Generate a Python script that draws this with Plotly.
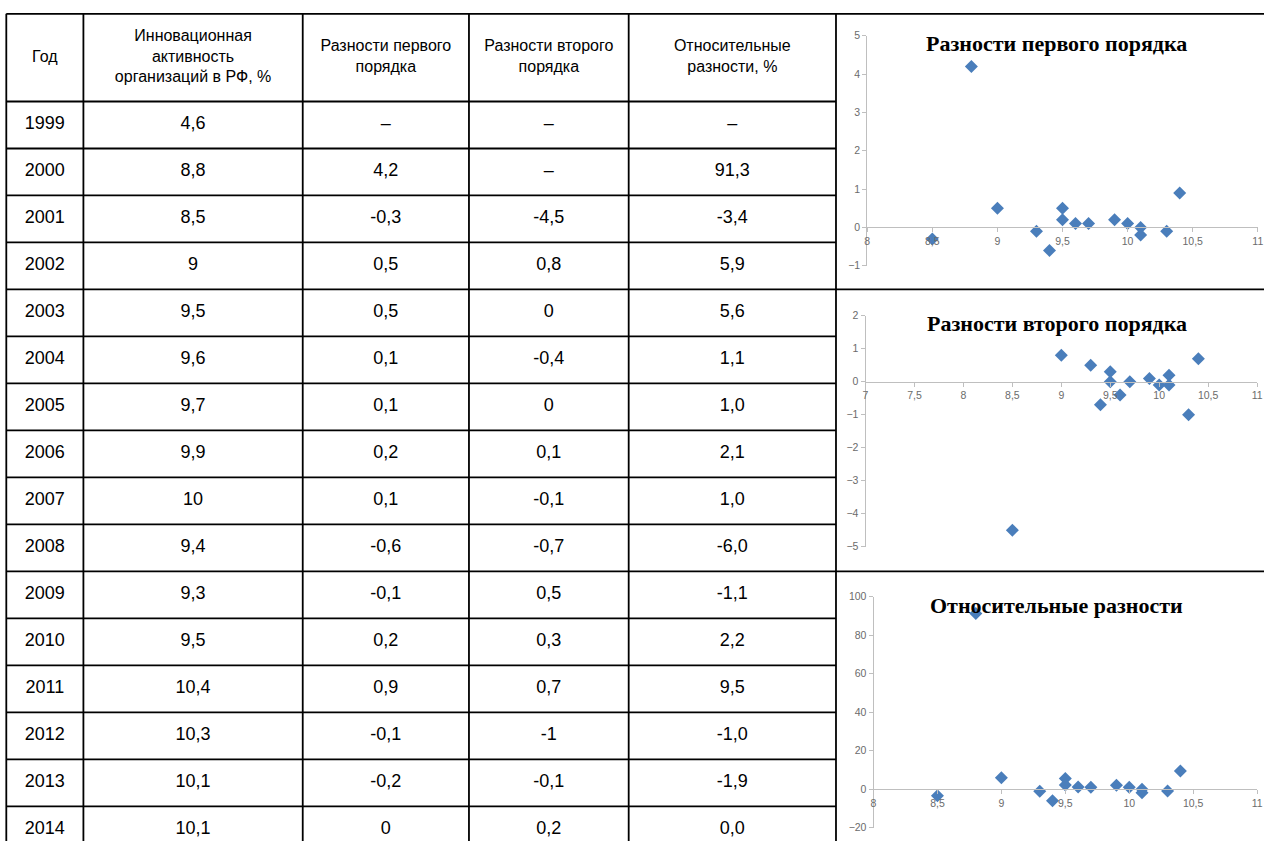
import plotly.graph_objects as go

years = [1999, 2000, 2001, 2002, 2003, 2004, 2005, 2006, 2007, 2008, 2009, 2010, 2011, 2012, 2013, 2014]
activity = [4.6, 8.8, 8.5, 9, 9.5, 9.6, 9.7, 9.9, 10, 9.4, 9.3, 9.5, 10.4, 10.3, 10.1, 10.1]
diff1 = [None, 4.2, -0.3, 0.5, 0.5, 0.1, 0.1, 0.2, 0.1, -0.6, -0.1, 0.2, 0.9, -0.1, -0.2, 0]
diff2 = [None, None, -4.5, 0.8, 0, -0.4, 0, 0.1, -0.1, -0.7, 0.5, 0.3, 0.7, -1, -0.1, 0.2]
rel = [None, 91.3, -3.4, 5.9, 5.6, 1.1, 1.0, 2.1, 1.0, -6.0, -1.1, 2.2, 9.5, -1.0, -1.9, 0.0]
headers = ["Год", "Инновационная<br>активность<br>организаций в РФ, %", "Разности первого<br>порядка",
           "Разности второго<br>порядка", "Относительные<br>разности, %"]
chart_titles = ["Разности первого порядка", "Разности второго порядка", "Относительные разности"]
chart_group_starts = [1999, 2003, 2009]

W, H = 1270, 847
DASH = "–"

# mapping between target-picture pixels and page pixels (capture calibration)
SX, BX = 0.9915, 3.7
SY, BY = 0.986, 5.2


def fx(r):  # picture px -> paper x
    return (r - BX) / (SX * W)


def fy(r):  # picture px -> paper y
    return 1 - (r - BY) / (SY * H)


# ---- table geometry (layout, in picture pixels) ----
TABLE_LEFT, TABLE_TOP = 7, 13
COL_W = [77, 219, 166, 159.5, 207]
HEADER_H, ROW_H = 87.7, 47.0
LINE = dict(color="black", width=1.8)
TFONT = "Liberation Sans, Arial, sans-serif"
RIGHT_EDGE = 1272


def fmt_g(v):
    return DASH if v is None else f"{v:g}".replace(".", ",")


def fmt_1(v):
    return DASH if v is None else f"{v:.1f}".replace(".", ",")


col_edges = [TABLE_LEFT]
for w in COL_W:
    col_edges.append(col_edges[-1] + w)
col_centers = [(a + b) / 2 for a, b in zip(col_edges[:-1], col_edges[1:])]
row_edges = [TABLE_TOP, TABLE_TOP + HEADER_H]
for _ in years:
    row_edges.append(row_edges[-1] + ROW_H)
row_centers = [(a + b) / 2 for a, b in zip(row_edges[1:-1], row_edges[2:])]
TABLE_RIGHT = col_edges[-1]

columns = [[str(y) for y in years], [fmt_g(v) for v in activity], [fmt_g(v) for v in diff1],
           [fmt_g(v) for v in diff2], [fmt_1(v) for v in rel]]

fig = go.Figure()

# table drawn on a picture-pixel axis pair (x4/y4)
fig.add_trace(go.Scatter(
    x=col_centers, y=[(row_edges[0] + row_edges[1]) / 2] * len(headers), text=headers,
    mode="text", textposition="middle center", xaxis="x4", yaxis="y4", hoverinfo="skip",
    textfont=dict(family=TFONT, size=16, color="black")))
cx, cy, ct = [], [], []
for ci, col in enumerate(columns):
    for ri, t in enumerate(col):
        cx.append(col_centers[ci])
        cy.append(row_centers[ri])
        ct.append(t)
fig.add_trace(go.Scatter(x=cx, y=cy, text=ct, mode="text", textposition="middle center",
                         xaxis="x4", yaxis="y4", hoverinfo="skip",
                         textfont=dict(family=TFONT, size=18, color="black")))

shapes = []
for i, yy in enumerate(row_edges):
    x1 = RIGHT_EDGE if i == 0 else TABLE_RIGHT
    shapes.append(dict(type="line", xref="x4", yref="y4", x0=TABLE_LEFT, x1=x1, y0=yy, y1=yy, line=LINE))
for xx in col_edges:
    shapes.append(dict(type="line", xref="x4", yref="y4", x0=xx, x1=xx, y0=TABLE_TOP, y1=row_edges[-1], line=LINE))
for yr_ in chart_group_starts[1:]:
    yy = row_edges[1 + years.index(yr_)]
    shapes.append(dict(type="line", xref="x4", yref="y4", x0=TABLE_RIGHT, x1=RIGHT_EDGE, y0=yy, y1=yy, line=LINE))

fig.update_layout(
    xaxis4=dict(domain=[0, 1], range=[BX, BX + SX * W], visible=False, fixedrange=True, anchor="y4"),
    yaxis4=dict(domain=[0, 1], range=[BY + SY * H, BY], visible=False, fixedrange=True, anchor="x4"),
)

# ---- scatter charts ----
charts = [
    (diff1, [8, 11], [-1, 5], 1, (866.7, 1256.7), (35, 265)),
    (diff2, [7, 11], [-5, 2], 1, (865, 1256), (315, 546)),
    (rel, [8, 11], [-20, 100], 20, (873, 1256), (596, 827)),
]
title_px = [43, 323, 605]
axfont = dict(family="Liberation Sans, Arial, sans-serif", size=10.5, color="#6b6b6b")

for i, (yv, xr, yr, ydt, xpx, ypx) in enumerate(charts, start=1):
    xs = [a for a, b in zip(activity, yv) if b is not None]
    ys = [b for b in yv if b is not None]
    xa = "x" if i == 1 else f"x{i}"
    ya = "y" if i == 1 else f"y{i}"
    fig.add_trace(go.Scatter(x=xs, y=ys, mode="markers", xaxis=xa, yaxis=ya, showlegend=False,
                             marker=dict(symbol="diamond", size=10, color="#4A7EBB")))
    yd = [fy(ypx[1]), fy(ypx[0])]
    pos0 = yd[0] + (0 - yr[0]) / (yr[1] - yr[0]) * (yd[1] - yd[0])
    fig.layout[f"xaxis{'' if i == 1 else i}"] = dict(
        domain=[fx(xpx[0]), fx(xpx[1])], range=xr, dtick=0.5, anchor="free", position=pos0,
        showline=True, linecolor="#BFBFBF", linewidth=1, ticks="outside", ticklen=4, tickcolor="#BFBFBF",
        showgrid=False, zeroline=False, tickfont=axfont, fixedrange=True)
    fig.layout[f"yaxis{'' if i == 1 else i}"] = dict(
        domain=yd, range=yr, dtick=ydt, anchor=xa,
        showline=True, linecolor="#BFBFBF", linewidth=1, ticks="outside", ticklen=4, tickcolor="#BFBFBF",
        showgrid=False, zeroline=False, tickfont=axfont, fixedrange=True)
    fig.add_annotation(text=f"<b>{chart_titles[i - 1]}</b>", xref="paper", yref="paper",
                       x=fx(1056), y=fy(title_px[i - 1]), xanchor="center", yanchor="middle",
                       showarrow=False,
                       font=dict(family="Liberation Serif, Times New Roman, serif", size=22, color="black"))

fig.update_layout(width=W, height=H, margin=dict(l=0, r=0, t=0, b=0), autosize=False,
                  paper_bgcolor="white", plot_bgcolor="rgba(0,0,0,0)", separators=", ",
                  showlegend=False, shapes=shapes)
fig.write_html("out.html", config={"displayModeBar": False},
               post_script="document.body.style.margin='0';document.body.style.overflow='hidden';")
